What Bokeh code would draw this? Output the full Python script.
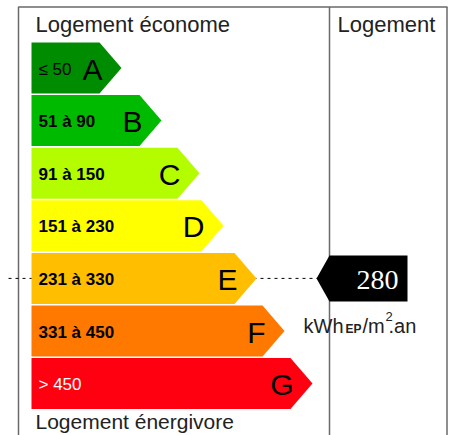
from bokeh.plotting import figure
from bokeh.models import Range1d, ColumnDataSource
from bokeh.core.properties import value
from bokeh.embed import file_html
from bokeh.resources import INLINE

# ---- data ----
classes = ["A", "B", "C", "D", "E", "F", "G"]
ranges = ["≤ 50", "51 à 90", "91 à 150", "151 à 230", "231 à 330", "331 à 450", "> 450"]
upper_bounds = [50, 90, 150, 230, 330, 450, None]
colors = ["#008c00", "#00ba00", "#b4fc00", "#ffff00", "#ffbf00", "#ff7800", "#ff0010"]
bar_ends = [99, 139, 177, 201, 234, 262, 290]
label_colors = ["black", "black", "black", "black", "black", "black", "white"]
label_styles = ["normal", "bold", "bold", "bold", "bold", "bold", "normal"]
consumption = 280
title_top = "Logement économe"
title_bottom = "Logement énergivore"
title_right = "Logement"

FONT = value("Liberation Sans")

W, H = 453, 435
p = figure(width=W, height=H, output_backend="svg", toolbar_location=None,
           x_range=Range1d(0, W), y_range=Range1d(H, 0),
           min_border=0, outline_line_color=None)
p.axis.visible = False
p.grid.visible = False
p.background_fill_color = "white"

# frame
p.line([18, 18, 447], [440, 6.5, 6.5], line_color="#6a6a6a", line_width=1.5)
p.line([446.5, 446.5], [6.5, 440], line_color="#6a6a6a", line_width=1.5)
p.line([329, 329], [6.5, 440], line_color="#6a6a6a", line_width=1.5)

# bars
x0 = 31
tip = 22
top0, step, bh = 42, 52.6, 51
xs, ys, mids = [], [], []
for i, r in enumerate(bar_ends):
    t = top0 + step * i
    b = t + bh
    m = (t + b) / 2
    mids.append(m)
    xs.append([x0, r, r + tip, r, x0])
    ys.append([t, t, m, b, b])

# find class of the consumption value
idx = len(classes) - 1
for i, ub in enumerate(upper_bounds):
    if ub is not None and consumption <= ub:
        idx = i
        break
ym = mids[idx]

# dashed line behind
p.line([8, 318], [ym, ym], line_color="black", line_width=1, line_dash="3 4")

p.patches(xs, ys, fill_color=colors, line_color=None)

src = ColumnDataSource(dict(
    x=[38] * 7, y=[m + 1 for m in mids], text=ranges, color=label_colors,
    style=label_styles))
p.text("x", "y", text="text", source=src, text_font=FONT, text_font_size="17px",
       text_font_style="style", text_color="color", text_baseline="middle",
       text_align="left")

lsrc = ColumnDataSource(dict(x=[r + 3 for r in bar_ends], y=[m + 1 for m in mids],
                             text=classes))
p.text("x", "y", text="text", source=lsrc, text_font=FONT, text_font_size="30px",
       text_color="black", text_baseline="middle", text_align="right")

# titles
p.text([35], [24], text=[title_top], text_font=FONT, text_font_size="22px",
       text_color="#222222", text_baseline="middle", text_align="left")
p.text([337], [24], text=[title_right], text_font=FONT, text_font_size="22px",
       text_color="#222222", text_baseline="middle", text_align="left")
p.text([35], [421], text=[title_bottom], text_font=FONT, text_font_size="21px",
       text_color="#222222", text_baseline="middle", text_align="left")

# consumption arrow
ah = 23
p.patch([316, 329, 407, 407, 329], [ym, ym - ah, ym - ah, ym + ah, ym + ah],
        fill_color="black", line_color=None)
p.text([377], [ym + 2], text=[str(consumption)], text_font=value("Liberation Serif"),
       text_font_size="28px", text_color="white", text_baseline="middle",
       text_align="center")

# unit
p.text([303], [325], text=["kWh"], text_font=FONT, text_font_size="20px",
       text_color="#222222", text_baseline="alphabetic", text_align="left")
p.text([345], [328], text=["EP"], text_font=FONT, text_font_size="12px",
       text_font_style="bold", text_color="#222222", text_baseline="alphabetic",
       text_align="left")
p.text([362], [325], text=["/m"], text_font=FONT, text_font_size="20px",
       text_color="#222222", text_baseline="alphabetic", text_align="left")
p.text([385], [316], text=["2"], text_font=FONT, text_font_size="13px",
       text_color="#222222", text_baseline="alphabetic", text_align="left")
p.text([388], [325], text=[".an"], text_font=FONT, text_font_size="20px",
       text_color="#222222", text_baseline="alphabetic", text_align="left")

open("out.html", "w").write(file_html(p, INLINE))
